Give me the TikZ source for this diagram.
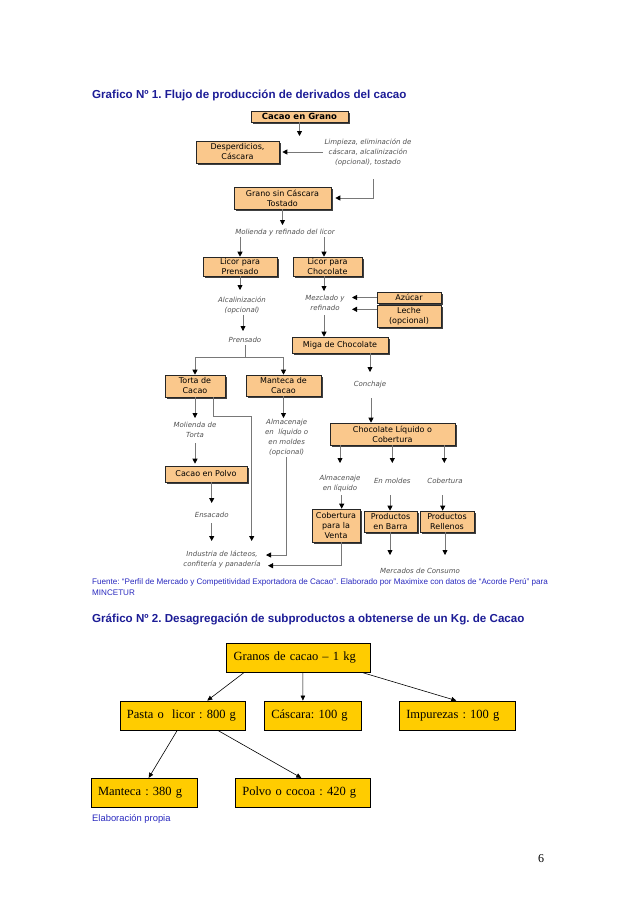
\documentclass[tikz,border=0pt]{standalone}
\usepackage{fontspec}
\setmainfont{Liberation Serif}
\newfontfamily\arialf{Liberation Sans}
\newfontfamily\verd{DejaVu Sans}
\usetikzlibrary{arrows.meta,shadows}
\definecolor{peach}{RGB}{250,200,140}
\definecolor{gold}{RGB}{255,204,0}
\definecolor{navy}{RGB}{28,28,150}
\definecolor{srcblue}{RGB}{40,40,190}
\definecolor{lblgray}{RGB}{80,80,80}
\definecolor{linegray}{RGB}{120,120,120}
\frenchspacing
\begin{document}
\begin{tikzpicture}[x=1pt,y=-1pt,
 fb/.style={draw=black!85, fill=peach, line width=0.6pt, align=center, inner sep=0pt,
   font=\verd\fontsize{8}{10}\selectfont,
   drop shadow={shadow xshift=1.6pt,shadow yshift=-1.6pt,fill=black!75,opacity=1}},
 lb/.style={font=\verd\itshape\fontsize{7}{10}\selectfont, text=lblgray, align=center, inner sep=0pt},
 ln/.style={draw=linegray, line width=0.8pt},
 ar/.style={draw=linegray, line width=0.8pt, -{Triangle[width=5pt,length=5pt,color=black]}},
 gb/.style={draw=black, fill=gold, line width=0.8pt, font=\fontsize{12.5}{15}\selectfont,
   align=left, inner xsep=7pt, inner ysep=0pt, minimum height=29pt},
 ar2/.style={draw=black, line width=0.6pt, -{Triangle[width=4.5pt,length=5pt]}},
 ttl/.style={font=\arialf\bfseries\fontsize{11.6}{13}\selectfont, text=navy, anchor=base west, inner sep=0pt},
 src/.style={font=\arialf\fontsize{8.1}{9}\selectfont, text=srcblue, anchor=base west, inner sep=0pt}]
\useasboundingbox (0,0) rectangle (638,903);

% titles
\node[ttl] (t1) at (92,98) {Grafico Nº 1. Flujo de producción de derivados del cacao};
\node[src] (f1) at (92,584) {Fuente: “Perfil de Mercado y Competitividad Exportadora de Cacao”. Elaborado por Maximixe con datos de “Acorde Perú” para};
\node[src] (f2) at (92,595) {MINCETUR};
\node[ttl] (t2) at (92,622) {Gráfico Nº 2. Desagregación de subproductos a obtenerse de un Kg. de Cacao};
\node[src, font=\arialf\fontsize{9.4}{10}\selectfont] (ep) at (92,821) {Elaboración propia};
\node[font=\fontsize{12}{14}\selectfont, anchor=base, inner sep=0pt] (pg) at (541,862) {6};

% flow boxes
\node[fb, minimum width=97pt, minimum height=11pt, font=\verd\bfseries\fontsize{8.5}{10}\selectfont] (grano) at (299.5,116.5) {Cacao en Grano};
\node[fb, minimum width=83pt, minimum height=22pt] (desp) at (237.5,152) {Desperdicios,\\Cáscara};
\node[fb, minimum width=97pt, minimum height=22pt] (tost) at (282.5,198) {Grano sin Cáscara\\Tostado};
\node[fb, minimum width=74pt, minimum height=19pt] (lpren) at (240,266.5) {Licor para\\Prensado};
\node[fb, minimum width=69pt, minimum height=19pt] (lchoc) at (327.5,266.5) {Licor para\\Chocolate};
\node[fb, minimum width=64pt, minimum height=11pt] (azu) at (409,297.5) {Azúcar};
\node[fb, minimum width=64pt, minimum height=22pt] (leche) at (409,316) {Leche\\(opcional)};
\node[fb, minimum width=96pt, minimum height=16pt] (miga) at (340,345) {Miga de Chocolate};
\node[fb, minimum width=60pt, minimum height=22pt] (torta) at (195,386) {Torta de\\Cacao};
\node[fb, minimum width=75pt, minimum height=21pt] (mant) at (283.5,385.5) {Manteca de\\Cacao};
\node[fb, minimum width=125pt, minimum height=22pt] (cliq) at (392.5,434) {Chocolate Líquido o\\Cobertura};
\node[fb, minimum width=82pt, minimum height=16pt] (polvo) at (206,474) {Cacao en Polvo};
\node[fb, minimum width=48pt, minimum height=33pt] (cventa) at (336,525.5) {Cobertura\\para la\\Venta};
\node[fb, minimum width=53pt, minimum height=21pt] (barra) at (390.5,521.5) {Productos\\en Barra};
\node[fb, minimum width=54pt, minimum height=21pt] (rell) at (447,521.5) {Productos\\Rellenos};

% labels
\node[lb] (lab1) at (368,152.5) {Limpieza, eliminación de\\cáscara, alcalinización\\(opcional), tostado};
\node[lb] (lab2) at (285,233) {Molienda y refinado del licor};
\node[lb] (lab3) at (242,305) {Alcalinización\\(opcional)};
\node[lb] (lab4) at (245,339.5) {Prensado};
\node[lb] (lab5) at (325,303.3) {Mezclado y\\refinado};
\node[lb] (lab6) at (370,385) {Conchaje};
\node[lb] (lab7) at (195,429.5) {Molienda de\\Torta};
\node[lb] (lab8) at (286.7,437.7) {Almacenaje\\en \ líquido o\\en moldes\\(opcional)};
\node[lb] (lab9) at (211.7,515) {Ensacado};
\node[lb] (lab10) at (340,484) {Almacenaje\\en líquido};
\node[lb] (lab11) at (392.3,481) {En moldes};
\node[lb] (lab12) at (445,481) {Cobertura};
\node[lb] (lab13) at (222,559.5) {Industria de lácteos,\\confitería y panadería};
\node[lb] (lab14) at (420,570.7) {Mercados de Consumo};

% coordinates
\coordinate (e1) at (299.5,136);
\coordinate (l1a) at (323,152);
\coordinate (l1b) at (373,179);
\coordinate (l1c) at (373,198);
\coordinate (e2) at (282.5,225);
\coordinate (s1) at (240,237);
\coordinate (s2) at (324,237);
\coordinate (e3) at (240,290);
\coordinate (s3) at (243,315);
\coordinate (e4) at (243,331);
\coordinate (e5) at (324,291);
\coordinate (e6) at (352,297.5);
\coordinate (e7) at (352,309.3);
\coordinate (s4) at (324,315);
\coordinate (p1) at (245,345);
\coordinate (p2) at (245,357);
\coordinate (h1) at (195,357);
\coordinate (h2) at (283.5,357);
\coordinate (e8) at (370,372);
\coordinate (s5) at (371,398);
\coordinate (e9) at (195,418);
\coordinate (t2) at (213,416);
\coordinate (t3) at (251.7,416);
\coordinate (e10) at (251.7,541);
\coordinate (s6) at (195,443);
\coordinate (e11) at (283.5,418);
\coordinate (e12) at (211.7,503);
\coordinate (s7) at (211.7,523);
\coordinate (e13) at (211.7,541);
\coordinate (m1) at (286.7,457);
\coordinate (m2) at (286.7,555);
\coordinate (e14) at (266,555);
\coordinate (c2) at (341.7,565.7);
\coordinate (e15) at (268,565.7);
\coordinate (e16) at (340,463);
\coordinate (e17) at (392.3,463);
\coordinate (e18) at (444.3,463);
\coordinate (s8) at (341.7,495);
\coordinate (s9) at (390,495);
\coordinate (s10) at (442.7,495);
\coordinate (e19) at (390,555);
\coordinate (e20) at (445,555);

% flow connectors
\draw[ar] (grano) -- (e1);
\draw[ar, shorten >=3pt] (l1a) -- (desp);
\draw[ar, shorten >=4pt] (l1b) -- (l1c) -- (tost);
\draw[ar] (tost) -- (e2);
\draw[ar] (s1) -- (lpren);
\draw[ar] (s2) -- (s2 |- lchoc.north);
\draw[ar] (lpren) -- (e3);
\draw[ar] (s3) -- (e4);
\draw[ar] (lchoc.south -| e5) -- (e5);
\draw[ar] (azu) -- (e6);
\draw[ar] (leche.west |- e7) -- (e7);
\draw[ar] (s4) -- (s4 |- miga.north);
\draw[ln] (p1) -- (p2);
\draw[ln] (h1) -- (h2);
\draw[ar] (h1) -- (torta);
\draw[ar] (h2) -- (mant);
\draw[ar] (miga.south -| e8) -- (e8);
\draw[ar] (s5) -- (s5 |- cliq.north);
\draw[ar] (torta) -- (e9);
\draw[ar] (torta.south -| t2) -- (t2) -- (t3) -- (e10);
\draw[ar, shorten >=2pt] (s6) -- (s6 |- polvo.north);
\draw[ar] (mant) -- (e11);
\draw[ar] (polvo.south -| e12) -- (e12);
\draw[ar] (s7) -- (e13);
\draw[ar] (m1) -- (m2) -- (e14);
\draw[ar] (cventa.south -| c2) -- (c2) -- (e15);
\draw[ar] (cliq.south -| e16) -- (e16);
\draw[ar] (cliq.south -| e17) -- (e17);
\draw[ar] (cliq.south -| e18) -- (e18);
\draw[ar] (s8) -- (s8 |- cventa.north);
\draw[ar] (s9) -- (s9 |- barra.north);
\draw[ar] (s10) -- (s10 |- rell.north);
\draw[ar] (barra.south -| e19) -- (e19);
\draw[ar] (rell.south -| e20) -- (e20);

% diagram 2
\node[gb, text width=129.3pt] (g1) at (298.3,657.8) {Granos de cacao – 1 kg};
\node[gb, text width=111.7pt] (pl) at (182.8,715.5) {Pasta o \ licor : 800 g};
\node[gb, text width=83.4pt] (cs) at (313,715.5) {Cáscara: 100 g};
\node[gb, text width=102.4pt] (im) at (457.5,715.5) {Impurezas : 100 g};
\node[gb, text width=92.3pt] (mt) at (144.2,792.8) {Manteca : 380 g};
\node[gb, text width=121.4pt] (pc) at (303,792.8) {Polvo o cocoa : 420 g};

\draw[ar2] ([xshift=17.6pt]g1.south west) -- ([xshift=87.7pt]pl.north west);
\draw[ar2] ([xshift=76.6pt]g1.south west) -- ([xshift=39pt]cs.north west);
\draw[ar2] ([xshift=136.6pt]g1.south west) -- ([xshift=57.4pt]im.north west);
\draw[ar2] ([xshift=57.7pt]pl.south west) -- ([xshift=58pt]mt.north west);
\draw[ar2] ([xshift=98.3pt]pl.south west) -- ([xshift=66.4pt]pc.north west);
\end{tikzpicture}
\end{document}
